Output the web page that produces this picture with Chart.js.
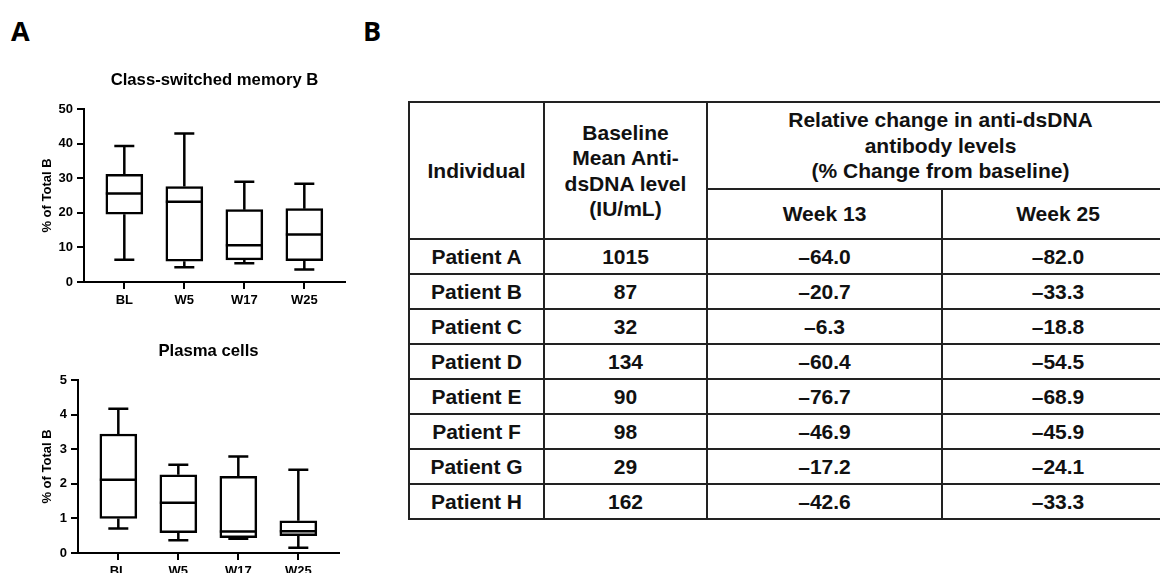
<!DOCTYPE html>
<html>
<head>
<meta charset="utf-8">
<script src="https://cdn.jsdelivr.net/npm/chart.js@4.4.1/dist/chart.umd.min.js"></script>
<style>
  html, body { margin: 0; padding: 0; background: #fff; }
  body { width: 1160px; height: 573px; overflow: hidden; position: relative; }
  .panel { position: absolute; font: bold 27px "Open Sans", "Liberation Sans", Arial, sans-serif; line-height: 1; color: #000; }
  canvas { position: absolute; }
  table { position: absolute; left: 408px; top: 101px; width: 765px; border-collapse: collapse; table-layout: fixed;
          font: bold 21px "Liberation Sans", Arial, sans-serif; color: #111; }
  td { border: 2px solid #222; text-align: center; vertical-align: middle; padding: 0; white-space: nowrap; }
  .hd { line-height: 25.5px; }
</style>
</head>
<body>
<div class="panel" style="left:11px;top:17px">A</div>
<div class="panel" style="left:363px;top:17px">B</div>
<canvas id="csm" width="350" height="252" style="left:0;top:60px"></canvas>
<canvas id="pc" width="344" height="252" style="left:0;top:331px"></canvas>
<table id="tbl">
  <colgroup><col style="width:135px"><col style="width:163px"><col style="width:235px"><col style="width:232px"></colgroup>
  <tbody id="tbody">
    <tr style="height:87px">
      <td rowspan="2" class="hd">Individual</td>
      <td rowspan="2" class="hd">Baseline<br>Mean Anti-<br>dsDNA level<br>(IU/mL)</td>
      <td colspan="2" class="hd">Relative change in anti-dsDNA<br>antibody levels<br>(% Change from baseline)</td>
    </tr>
    <tr style="height:50px">
      <td>Week 13</td>
      <td>Week 25</td>
    </tr>
  </tbody>
</table>
<script>
// ---- Panel A data ----
const categories = ['BL', 'W5', 'W17', 'W25'];

// Class-switched memory B (% of Total B)
const csmMin    = [6.4, 4.3, 5.4, 3.6];
const csmQ1     = [19.6, 6.0, 6.4, 6.2];
const csmMedian = [25.6, 23.2, 10.6, 13.7];
const csmQ3     = [31.1, 27.6, 20.9, 21.2];
const csmMax    = [39.3, 42.9, 29.0, 28.4];

// Plasma cells (% of Total B)
const pcMin    = [0.71, 0.37, 0.41, 0.15];
const pcQ1     = [1.00, 0.59, 0.44, 0.50];
const pcMedian = [2.12, 1.45, 0.62, 0.63];
const pcQ3     = [3.44, 2.26, 2.22, 0.93];
const pcMax    = [4.17, 2.55, 2.79, 2.41];

// ---- Panel B data ----
const individuals    = ['Patient A', 'Patient B', 'Patient C', 'Patient D', 'Patient E', 'Patient F', 'Patient G', 'Patient H'];
const baselineLevels = [1015, 87, 32, 134, 90, 98, 29, 162];
const week13Change   = [-64.0, -20.7, -6.3, -60.4, -76.7, -46.9, -17.2, -42.6];
const week25Change   = [-82.0, -33.3, -18.8, -54.5, -68.9, -45.9, -24.1, -33.3];

// ---- Table ----
const fmt = v => (v < 0 ? '\u2013' : '') + Math.abs(v).toFixed(1);
const tbody = document.getElementById('tbody');
individuals.forEach((name, i) => {
  const tr = document.createElement('tr');
  tr.style.height = '35px';
  [name, String(baselineLevels[i]), fmt(week13Change[i]), fmt(week25Change[i])].forEach(t => {
    const td = document.createElement('td');
    td.textContent = t;
    tr.appendChild(td);
  });
  tbody.appendChild(tr);
});

// ---- Box plots ----
Chart.defaults.font.family = '"Liberation Sans", Arial, sans-serif';
Chart.defaults.color = '#000';

const whiskerPlugin = {
  id: 'whiskers',
  afterDatasetsDraw(chart, args, opts) {
    const { ctx, scales: { x, y } } = chart;
    ctx.save();
    ctx.strokeStyle = '#000';
    ctx.lineWidth = 2.5;
    ctx.lineCap = 'butt';
    opts.median.forEach((m, i) => {
      const cx = x.getPixelForValue(i);
      const hb = opts.boxHalf, hc = opts.capHalf;
      const yMin = y.getPixelForValue(opts.min[i]);
      const yQ1 = y.getPixelForValue(opts.q1[i]);
      const yQ3 = y.getPixelForValue(opts.q3[i]);
      const yMax = y.getPixelForValue(opts.max[i]);
      const yMed = y.getPixelForValue(m);
      ctx.beginPath();
      ctx.moveTo(cx, yQ3); ctx.lineTo(cx, yMax);
      ctx.moveTo(cx - hc, yMax); ctx.lineTo(cx + hc, yMax);
      ctx.moveTo(cx, yQ1); ctx.lineTo(cx, yMin);
      ctx.moveTo(cx - hc, yMin); ctx.lineTo(cx + hc, yMin);
      ctx.moveTo(cx - hb, yMed); ctx.lineTo(cx + hb, yMed);
      ctx.stroke();
    });
    ctx.restore();
  }
};

function boxChart(id, title, mn, q1, med, q3, mx, yMax, yStep, yAxisWidth) {
  return new Chart(document.getElementById(id), {
    type: 'bar',
    data: {
      datasets: [{
        data: categories.map((c, i) => ({ x: i, y: [q1[i], q3[i]] })),
        backgroundColor: '#fff',
        borderColor: '#000',
        borderWidth: 2.5,
        borderSkipped: false,
        barThickness: 37
      }]
    },
    options: {
      responsive: false,
      animation: false,
      devicePixelRatio: 1,
      layout: { padding: { left: 0, right: 5, top: 0, bottom: 0 } },
      plugins: {
        legend: { display: false },
        tooltip: { enabled: false },
        title: {
          display: true, text: title, fullSize: false,
          font: { size: 16.7, weight: 'bold' }, color: '#000',
          padding: { top: 10, bottom: 19 }
        },
        whiskers: { min: mn, q1: q1, median: med, q3: q3, max: mx, boxHalf: 18.5, capHalf: 10 }
      },
      scales: {
        x: {
          type: 'linear',
          offset: false,
          min: -0.672, max: 3.678,
          afterBuildTicks(scale) { scale.ticks = categories.map((c, i) => ({ value: i })); },
          afterFit(scale) { scale.height = 30; },
          ticks: {
            callback: v => categories[v],
            font: { size: 13, weight: 'bold' }, color: '#000', padding: 4,
            maxRotation: 0, autoSkip: false
          },
          grid: { display: true, offset: false, drawOnChartArea: false, drawTicks: true, tickLength: 7, lineWidth: 2, color: '#000' },
          border: { display: true, width: 2, color: '#000' }
        },
        y: {
          min: 0, max: yMax,
          afterFit(scale) { scale.width = yAxisWidth; },
          ticks: { stepSize: yStep, font: { size: 13, weight: 'bold' }, color: '#000', padding: 4 },
          grid: { display: true, drawOnChartArea: false, drawTicks: true, tickLength: 7, lineWidth: 2, color: '#000' },
          border: { display: true, width: 2, color: '#000' },
          title: { display: true, text: '% of Total B', font: { size: 13, weight: 'bold' }, color: '#000', padding: { top: 40, bottom: 0 } }
        }
      }
    },
    plugins: [whiskerPlugin]
  });
}

boxChart('csm', 'Class-switched memory B', csmMin, csmQ1, csmMedian, csmQ3, csmMax, 50, 10, 84);
boxChart('pc', 'Plasma cells', pcMin, pcQ1, pcMedian, pcQ3, pcMax, 5, 1, 78);
</script>
</body>
</html>
